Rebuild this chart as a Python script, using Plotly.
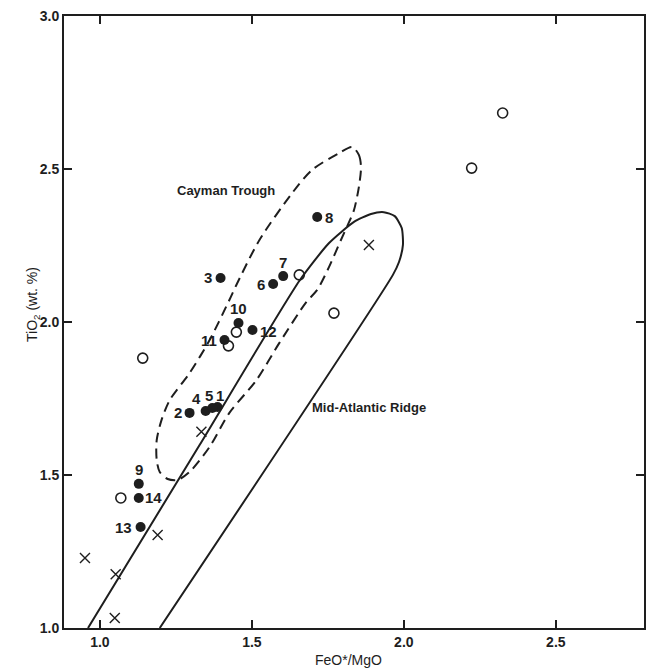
import plotly.graph_objects as go

# ---- data ----
filled_labels = ["1", "2", "3", "4", "5", "6", "7", "8", "9", "10", "11", "12", "13", "14"]
filled_x = [1.387, 1.295, 1.397, 1.348, 1.370, 1.570, 1.603, 1.715, 1.128, 1.456, 1.410, 1.502, 1.134, 1.128]
filled_y = [1.722, 1.703, 2.144, 1.709, 1.719, 2.124, 2.150, 2.343, 1.471, 1.997, 1.941, 1.974, 1.330, 1.425]

open_x = [1.449, 1.423, 1.656, 1.141, 1.069, 2.223, 2.325, 1.770]
open_y = [1.967, 1.922, 2.154, 1.882, 1.425, 2.503, 2.683, 2.029]

cross_x = [1.885, 1.334, 1.190, 1.052, 1.049, 0.951]
cross_y = [2.252, 1.641, 1.304, 1.176, 1.033, 1.229]

# Mid-Atlantic Ridge field outline
mar_x = [0.961, 1.328, 1.656, 1.754, 1.836, 1.892, 1.934, 1.970, 1.993, 1.997, 1.984, 1.964, 1.197]
mar_y = [1.000, 1.598, 2.134, 2.258, 2.327, 2.353, 2.359, 2.346, 2.307, 2.252, 2.196, 2.154, 1.000]

# Cayman Trough field outline
cay_x = [1.830, 1.852, 1.859, 1.852, 1.836, 1.820, 1.793, 1.754, 1.715, 1.679, 1.590, 1.515, 1.426,
         1.361, 1.295, 1.256, 1.223, 1.197, 1.187, 1.187, 1.203, 1.230, 1.295, 1.361, 1.426, 1.449,
         1.525, 1.633, 1.698, 1.787, 1.830]
cay_y = [2.572, 2.546, 2.507, 2.441, 2.366, 2.327, 2.268, 2.180, 2.105, 2.065, 1.931, 1.810, 1.703,
         1.592, 1.510, 1.484, 1.487, 1.510, 1.549, 1.614, 1.680, 1.745, 1.833, 1.941, 2.072, 2.121,
         2.268, 2.422, 2.497, 2.552, 2.572]

x_ticks = [1.0, 1.5, 2.0, 2.5]
y_ticks = [1.0, 1.5, 2.0, 2.5, 3.0]

# label offsets from their dots (pixels) - styling only
label_dx = [2, -12, -13, -9, -3, -12, 0, 12, 0, 0, -16, 16, -17, 15]
label_dy = [12, 0, 0, 13, 12, 0, 14, 0, 14, 14, 0, -2, 0, 0]

INK = "#1e1e1e"
FONT = "Liberation Sans, Arial, sans-serif"

fig = go.Figure()

fig.add_trace(go.Scatter(x=mar_x, y=mar_y, mode="lines",
                         line=dict(color=INK, width=2, shape="spline", smoothing=0.6),
                         hoverinfo="skip", showlegend=False))
fig.add_trace(go.Scatter(x=cay_x, y=cay_y, mode="lines",
                         line=dict(color=INK, width=2, dash="10px,6px", shape="spline", smoothing=0.8),
                         hoverinfo="skip", showlegend=False))

fig.add_trace(go.Scatter(x=open_x, y=open_y, mode="markers",
                         marker=dict(symbol="circle-open", size=10, color=INK, line=dict(width=1.6, color=INK)),
                         showlegend=False))
fig.add_trace(go.Scatter(x=cross_x, y=cross_y, mode="markers",
                         marker=dict(symbol="x-thin-open", size=10, color=INK, line=dict(width=1.4, color=INK)),
                         showlegend=False))
fig.add_trace(go.Scatter(x=filled_x, y=filled_y, mode="markers",
                         marker=dict(symbol="circle", size=10, color=INK),
                         showlegend=False))

for lab, lx, ly, dx, dy in zip(filled_labels, filled_x, filled_y, label_dx, label_dy):
    fig.add_annotation(x=lx, y=ly, text=lab, showarrow=False, xshift=dx, yshift=dy,
                       font=dict(family=FONT, size=15, color=INK, weight="bold"))

axis_common = dict(showgrid=False, zeroline=False, showline=True, linecolor=INK, linewidth=2,
                   mirror="ticks", ticks="inside", ticklen=8, tickwidth=1.5, tickcolor=INK,
                   tickfont=dict(family=FONT, size=14, color=INK, weight="bold"), tickformat=".1f")

fig.update_xaxes(range=[0.882, 2.79], tickvals=x_ticks, **axis_common)
fig.update_yaxes(range=[1.0, 3.0], tickvals=y_ticks, **axis_common)

fig.add_annotation(x=1.416, y=2.431, text="Cayman Trough", showarrow=False,
                   font=dict(family=FONT, size=13, color=INK, weight="bold"))
fig.add_annotation(x=1.885, y=1.719, text="Mid-Atlantic Ridge", showarrow=False,
                   font=dict(family=FONT, size=13, color=INK, weight="bold"))

fig.add_annotation(xref="paper", yref="paper", x=0.49, y=-32 / 612, yanchor="middle",
                   text="FeO*/MgO", showarrow=False,
                   font=dict(family=FONT, size=14, color=INK))
fig.add_annotation(xref="paper", yref="paper", x=-31 / 582, y=0.528, xanchor="center", yanchor="middle",
                   text="TiO<sub>2</sub> (wt. %)", textangle=-90, showarrow=False,
                   font=dict(family=FONT, size=14, color=INK))

fig.update_layout(width=647, height=669, margin=dict(l=64, r=1, t=16, b=41),
                  paper_bgcolor="white", plot_bgcolor="white")

fig.write_html("out.html", config={"displayModeBar": False},
               post_script="document.body.style.margin='0';document.body.style.overflow='hidden';")
